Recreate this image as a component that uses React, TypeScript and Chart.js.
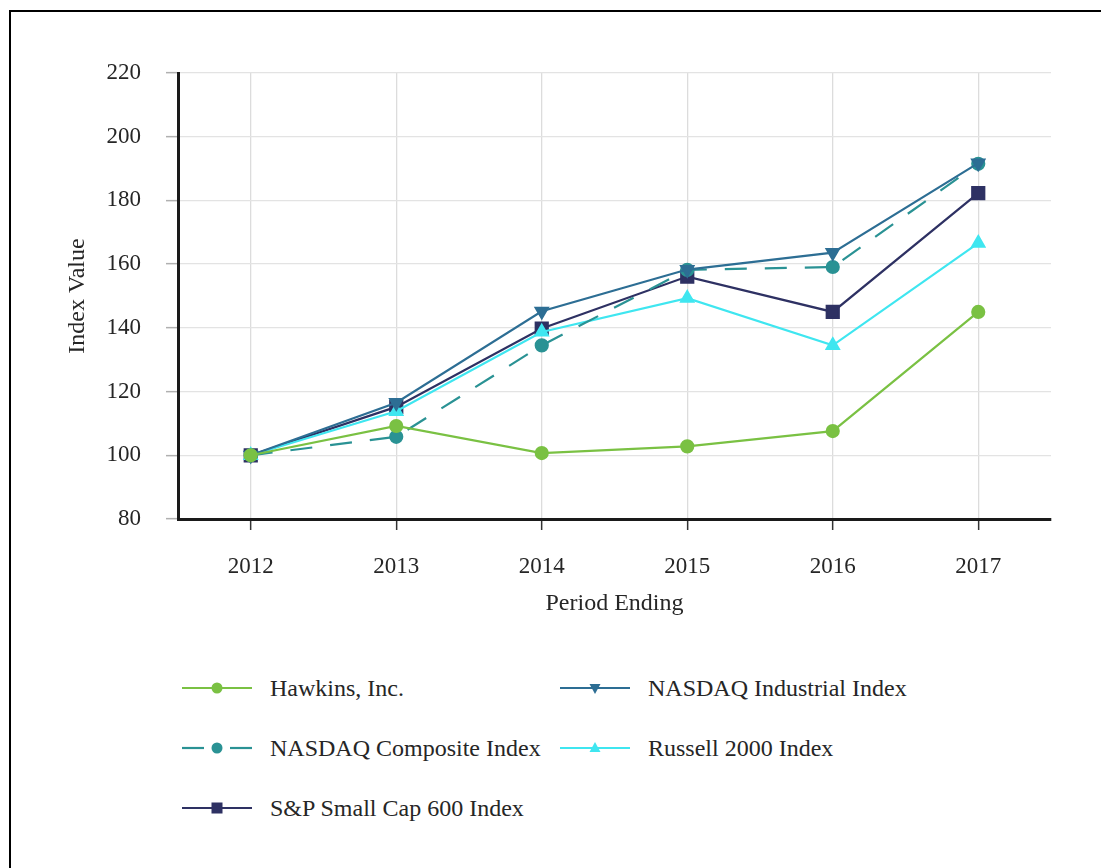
import React, { useEffect, useRef } from "react";
import { Chart, registerables } from "chart.js";

Chart.register(...registerables);

const years = ["2012", "2013", "2014", "2015", "2016", "2017"];
const hawkins = [100, 109.2, 100.7, 102.8, 107.6, 145.0];
const nasdaqIndustrial = [100, 116.5, 145.2, 158.3, 163.6, 191.7];
const nasdaqComposite = [100, 105.8, 134.5, 158.2, 159.1, 191.5];
const russell2000 = [100, 113.8, 138.7, 149.3, 134.5, 166.6];
const sp600 = [100, 115.2, 139.8, 156.1, 145.0, 182.3];

const FONT = "'Liberation Serif', 'Times New Roman', serif";
const TEXT = "#262626";

const C_HAWKINS = "#7ac143";
const C_IND = "#2d6e94";
const C_COMP = "#2a9294";
const C_RUSS = "#3fe6f0";
const C_SP = "#2e3163";

type LegendItem = { label: string; color: string; marker: string; dashed?: boolean; x: number; y: number };

const legendItems: LegendItem[] = [
  { label: "Hawkins, Inc.", color: C_HAWKINS, marker: "circle", x: 182, y: 688 },
  { label: "NASDAQ Industrial Index", color: C_IND, marker: "tdown", x: 560, y: 688 },
  { label: "NASDAQ Composite Index", color: C_COMP, marker: "circle", dashed: true, x: 182, y: 748 },
  { label: "Russell 2000 Index", color: C_RUSS, marker: "tup", x: 560, y: 748 },
  { label: "S&P Small Cap 600 Index", color: C_SP, marker: "square", x: 182, y: 808 },
];

function Symbol({ item }: { item: LegendItem }) {
  const w = 70;
  const h = 20;
  const cx = w / 2;
  const cy = h / 2;
  let mark: React.ReactNode = null;
  if (item.marker === "circle") mark = <circle cx={cx} cy={cy} r={5.5} fill={item.color} />;
  if (item.marker === "square") mark = <rect x={cx - 5.5} y={cy - 5.5} width={11} height={11} fill={item.color} />;
  if (item.marker === "tdown")
    mark = <polygon points={`${cx - 5.5},${cy - 4} ${cx + 5.5},${cy - 4} ${cx},${cy + 6}`} fill={item.color} />;
  if (item.marker === "tup")
    mark = <polygon points={`${cx - 5.5},${cy + 4} ${cx + 5.5},${cy + 4} ${cx},${cy - 6}`} fill={item.color} />;
  return (
    <svg width={w} height={h} style={{ position: "absolute", left: 0, top: -h / 2 }}>
      {item.dashed ? (
        <>
          <line x1={0} y1={cy} x2={22} y2={cy} stroke={item.color} strokeWidth={2.2} />
          <line x1={48} y1={cy} x2={70} y2={cy} stroke={item.color} strokeWidth={2.2} />
        </>
      ) : (
        <line x1={0} y1={cy} x2={w} y2={cy} stroke={item.color} strokeWidth={2.2} />
      )}
      {mark}
    </svg>
  );
}

export default function App() {
  const ref = useRef<HTMLCanvasElement | null>(null);

  useEffect(() => {
    document.body.style.overflow = "hidden";
    const canvas = ref.current;
    if (!canvas) return;
    const chart = new Chart(canvas, {
      type: "line",
      data: {
        labels: years,
        datasets: [
          {
            label: "Hawkins, Inc.",
            data: hawkins,
            borderColor: C_HAWKINS,
            backgroundColor: C_HAWKINS,
            pointStyle: "circle",
            pointRadius: 6,
            borderWidth: 2.2,
          },
          {
            label: "NASDAQ Industrial Index",
            data: nasdaqIndustrial,
            borderColor: C_IND,
            backgroundColor: C_IND,
            pointStyle: "triangle",
            pointRotation: 180,
            pointRadius: 7,
            borderWidth: 2.2,
          },
          {
            label: "NASDAQ Composite Index",
            data: nasdaqComposite,
            borderColor: C_COMP,
            backgroundColor: C_COMP,
            borderDash: [22, 18],
            pointStyle: "circle",
            pointRadius: 6,
            borderWidth: 2.2,
          },
          {
            label: "Russell 2000 Index",
            data: russell2000,
            borderColor: C_RUSS,
            backgroundColor: C_RUSS,
            pointStyle: "triangle",
            pointRadius: 7,
            borderWidth: 2.2,
          },
          {
            label: "S&P Small Cap 600 Index",
            data: sp600,
            borderColor: C_SP,
            backgroundColor: C_SP,
            pointStyle: "rect",
            pointRadius: 8.5,
            borderWidth: 2.2,
          },
        ],
      },
      options: {
        animation: false,
        responsive: false,
        maintainAspectRatio: false,
        devicePixelRatio: 1,
        layout: { padding: { left: 63, right: 50, top: 73, bottom: 22 } },
        plugins: { legend: { display: false }, tooltip: { enabled: false } },
        elements: { line: { tension: 0 }, point: { borderWidth: 0 } },
        scales: {
          x: {
            type: "category",
            offset: true,
            afterFit: (s: any) => {
              s.height = 99;
            },
            grid: {
              offset: false,
              color: "#dcdcdc",
              lineWidth: 1.3,
              drawTicks: true,
              tickLength: 11,
              tickColor: "#333",
              tickWidth: 1.5,
            },
            border: { display: true, color: "#1a1a1a", width: 3 },
            ticks: { color: TEXT, padding: 23, font: { family: FONT, size: 23 } },
            title: {
              display: true,
              text: "Period Ending",
              color: TEXT,
              padding: { top: 0, bottom: 0 },
              font: { family: FONT, size: 24 },
            },
          },
          y: {
            min: 80,
            max: 220,
            afterFit: (s: any) => {
              s.width = 115;
            },
            ticks: { stepSize: 20, color: TEXT, padding: 25, font: { family: FONT, size: 23 } },
            grid: {
              color: "#e3e3e3",
              lineWidth: 1.3,
              drawTicks: true,
              tickLength: 12,
              tickColor: "#b0b0b0",
              tickWidth: 1.5,
            },
            border: { display: true, color: "#1a1a1a", width: 3 },
            title: {
              display: true,
              text: "Index Value",
              color: TEXT,
              padding: { top: 0, bottom: 0 },
              font: { family: FONT, size: 24 },
            },
          },
        },
      },
    });
    return () => chart.destroy();
  }, []);

  return (
    <div style={{ position: "fixed", left: 0, top: 0, width: 1101, height: 868, background: "#fff", overflow: "hidden" }}>
      <div
        style={{
          position: "absolute",
          left: 9,
          top: 10,
          width: 1100,
          height: 870,
          borderLeft: "2px solid #000",
          borderTop: "2px solid #000",
        }}
      />
      <canvas ref={ref} width={1101} height={640} style={{ position: "absolute", left: 0, top: 0, width: 1101, height: 640 }} />
      {legendItems.map((it) => (
        <div key={it.label} style={{ position: "absolute", left: it.x, top: it.y, height: 0 }}>
          <Symbol item={it} />
          <span
            style={{
              position: "absolute",
              left: 88,
              top: -15,
              whiteSpace: "nowrap",
              fontFamily: FONT,
              fontSize: 24,
              lineHeight: "30px",
              color: TEXT,
            }}
          >
            {it.label}
          </span>
        </div>
      ))}
    </div>
  );
}
